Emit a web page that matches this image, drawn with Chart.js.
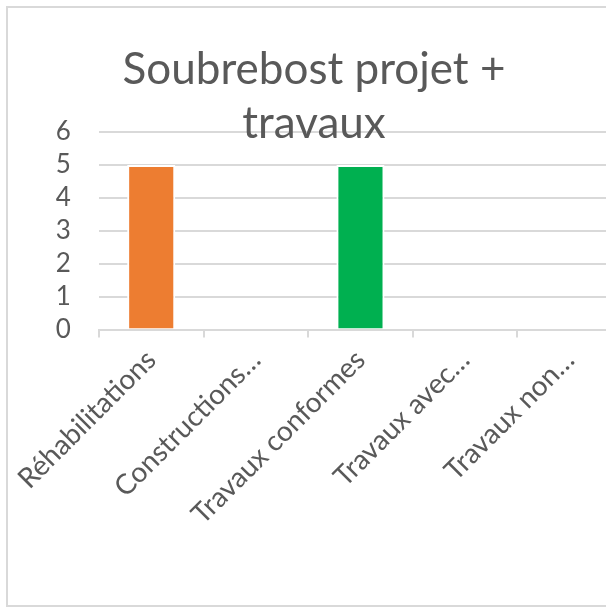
<!DOCTYPE html>
<html>
<head>
<meta charset="utf-8">
<script src="https://cdn.jsdelivr.net/npm/chart.js@4"></script>
<style>
  html, body { margin:0; padding:0; background:#fff; overflow:hidden; }
  #frame { position:absolute; left:6px; top:6px; width:614px; height:597px; border:2px solid #d9d9d9; background:#fff; }
  #frame canvas { display:block; }
</style>
</head>
<body>
<div id="frame"><canvas id="chart" width="614" height="597"></canvas></div>
<script>
// categories and counts
const categories = ['Réhabilitations', 'Constructions…', 'Travaux conformes', 'Travaux avec…', 'Travaux non…'];
const counts = [5, 0, 5, 0, 0];
const barColors = ['#ED7D31', '#A5A5A5', '#00B050', '#FFC000', '#5B9BD5'];
const titleLines = ['Soubrebost projet +', 'travaux'];
const yTicks = [0, 1, 2, 3, 4, 5, 6];

const FONT = 'Lato, "Open Sans", sans-serif';
const TEXT = '#595959';
const GRID = '#d9d9d9';

// title drawn on top of the plot, like the spreadsheet does
const titlePlugin = {
  id: 'overlayTitle',
  afterDraw(chart) {
    const ctx = chart.ctx;
    ctx.save();
    ctx.fillStyle = TEXT;
    ctx.font = '44px ' + FONT;
    ctx.textAlign = 'center';
    ctx.textBaseline = 'alphabetic';
    const cx = 306;
    ctx.fillText(titleLines[0], cx, 76);
    ctx.fillText(titleLines[1], cx, 130);
    ctx.restore();
  }
};

new Chart(document.getElementById('chart'), {
  type: 'bar',
  data: {
    labels: categories,
    datasets: [{
      data: counts,
      backgroundColor: barColors,
      borderColor: '#ffffff',
      borderWidth: 2,
      barPercentage: 0.46,
      categoryPercentage: 1
    }]
  },
  options: {
    responsive: false,
    animation: false,
    layout: { padding: { left: 19, right: 0, top: 124, bottom: 78 } },
    plugins: { legend: { display: false }, tooltip: { enabled: false }, title: { display: false } },
    scales: {
      x: {
        offset: true,
        grid: { offset: true, drawOnChartArea: false, drawTicks: true, tickLength: 8, color: GRID, lineWidth: 2 },
        border: { display: true, color: GRID, width: 2 },
        ticks: { color: TEXT, font: { family: FONT, size: 28 }, minRotation: 45, maxRotation: 45, padding: 6, autoSkip: false }
      },
      y: {
        min: 0, max: 6,
        afterBuildTicks(axis) { axis.ticks = yTicks.map(v => ({ value: v })); },
        grid: { color: GRID, lineWidth: 2, drawTicks: false },
        border: { display: false },
        ticks: { color: TEXT, font: { family: FONT, size: 26 }, padding: 28, autoSkip: false }
      }
    }
  },
  plugins: [titlePlugin]
});
</script>
</body>
</html>
